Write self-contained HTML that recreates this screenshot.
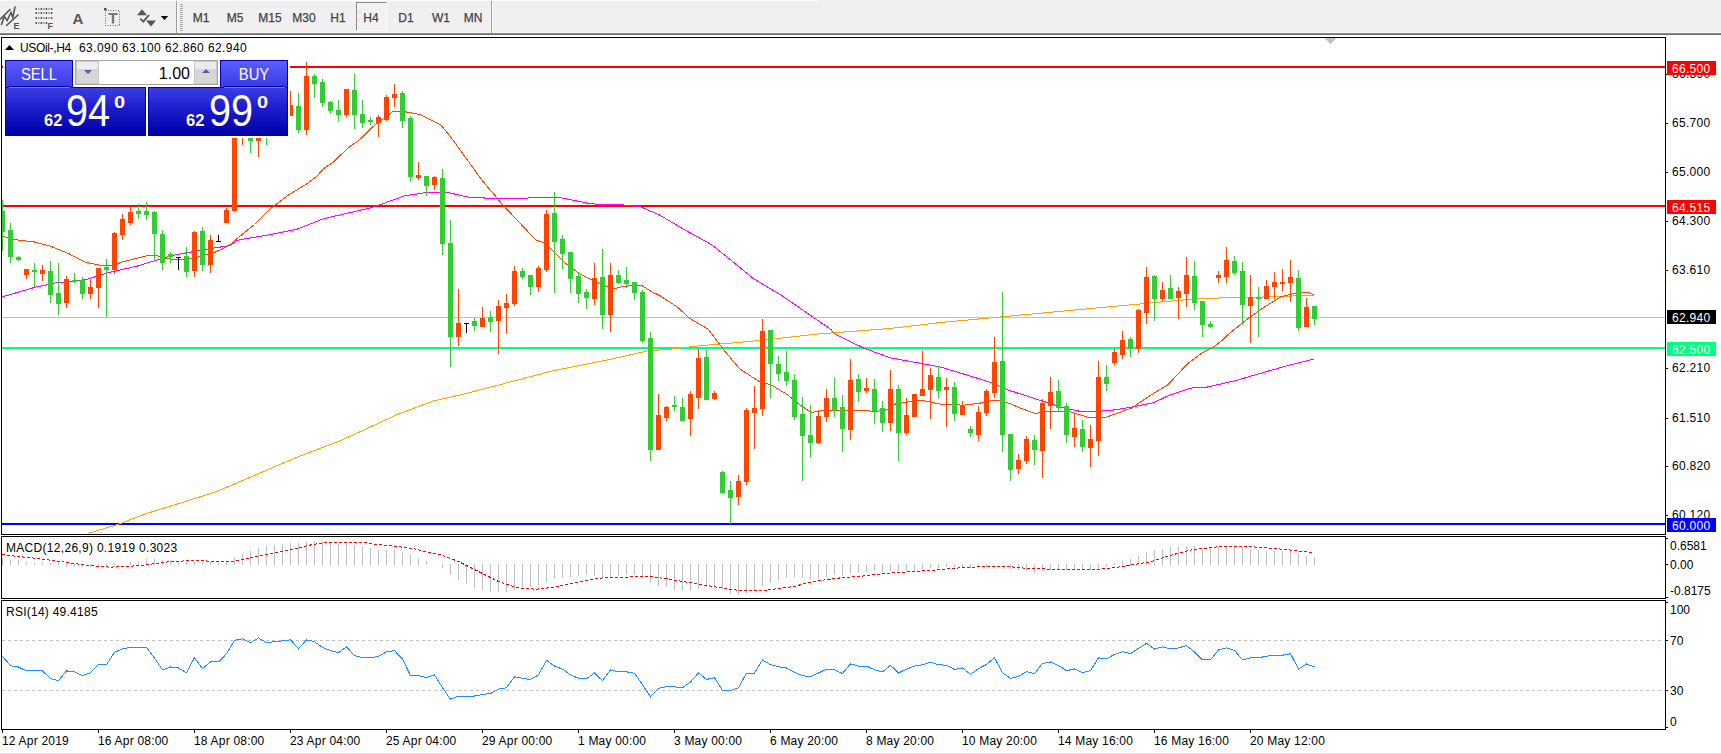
<!DOCTYPE html>
<html><head><meta charset="utf-8"><title>MT4 USOil H4</title><style>
html,body{margin:0;padding:0;width:1721px;height:754px;overflow:hidden;background:#fff;font-family:"Liberation Sans",sans-serif;}
svg text{font-family:"Liberation Sans",sans-serif;}
.tf{position:absolute;top:11px;transform:translateX(-50%);font-size:12px;color:#444;line-height:14px;-webkit-text-stroke:0.25px #444;}
.sep{position:absolute;top:1px;width:1px;height:31px;background:#a0a0a0;}
#h4btn{position:absolute;left:356px;top:2px;width:31px;height:29px;box-sizing:border-box;border-top:1px solid #8a8a8a;border-left:1px solid #8a8a8a;border-right:1px solid #fff;border-bottom:1px solid #fff;background:repeating-conic-gradient(#fdfdfd 0 25%,#e9e9e9 0 50%) 0 0/2px 2px;}
#oct{position:absolute;left:0;top:0;}
#octbg{position:absolute;left:3px;top:58px;width:287px;height:80px;background:#fff;}
.tab{position:absolute;top:60px;height:27px;background:linear-gradient(#5c5cff,#3a3ae6);color:#fff;font-size:15px;box-sizing:border-box;border:1px solid #0000b4;border-bottom:none;}
#selltab{left:5px;width:68px;}
#buytab{left:220px;width:68px;}
.tab span{position:absolute;left:0;right:0;top:5px;line-height:17px;font-size:16px;text-align:center;transform:scaleX(0.92);}
.dv1{position:absolute;top:86px;width:61px;height:1px;background:#0000b0;}
.dv2{position:absolute;top:87px;width:61px;height:1px;background:#7878ff;}
.pblk{position:absolute;top:87px;height:49px;background:linear-gradient(#3d3de4,#1e1ed0 40%,#0000a6);color:#fff;box-sizing:border-box;border:1px solid #0000b4;}
#sellp{left:5px;width:141px;}
#buyp{left:148px;width:140px;}
.sm{position:absolute;top:24px;font-size:17px;font-weight:bold;line-height:17px;transform:scaleX(0.97);transform-origin:0 0;}
.big{position:absolute;top:1px;font-size:44px;line-height:44px;transform:scaleX(0.9);transform-origin:0 0;}
.sup{position:absolute;top:7px;font-size:16px;font-weight:bold;line-height:16px;transform:scaleX(1.25);transform-origin:0 0;}
#sellp .sm{left:38px}#sellp .big{left:60px}#sellp .sup{left:108px}
#buyp .sm{left:37px}#buyp .big{left:60px}#buyp .sup{left:108px}
#vol{position:absolute;left:75px;top:60px;width:143px;height:25px;background:#fff;border:1px solid #a8a8a8;box-sizing:border-box;}
#vol span{position:absolute;right:27px;top:4px;font-size:16px;line-height:17px;color:#000;}
.spin{position:absolute;top:0px;width:23px;height:23px;background:linear-gradient(#ececec 35%,#d6d6d6 35%);border:1px solid #c8c8c8;box-sizing:border-box;}
.tri{position:absolute;left:7px;width:0;height:0;border-left:4px solid transparent;border-right:4px solid transparent;}
.tri.down{top:8px;border-top:4px solid #5060a0;}
.tri.up{top:7px;border-bottom:4px solid #5060a0;}
</style></head>
<body>
<svg width="1721" height="754" viewBox="0 0 1721 754" style="position:absolute;left:0;top:0"><rect x="0" y="0" width="1721" height="33" fill="#f0f0f0"/>
<rect x="0" y="0" width="818" height="1" fill="#fbfbfb"/>
<rect x="0" y="32" width="1721" height="1" fill="#f7f7f7"/>
<rect x="0" y="33" width="1721" height="1" fill="#8c8c8c"/>
<rect x="0" y="34" width="1721" height="1" fill="#6e6e6e"/>
<g><g stroke="#555" fill="none" stroke-width="1.6" stroke-linecap="round"><line x1="0.5" y1="19" x2="10" y2="9.5"/><line x1="6.5" y1="25.5" x2="18" y2="15"/><polyline points="1.5,24.5 4.2,16.5 7.2,20.5 11,12.5 12.8,17.5 15,7"/></g><text x="13.5" y="29" font-size="9" font-weight="bold" fill="#555">E</text><rect x="35.5" y="8" width="1.5" height="2" fill="#555"/><rect x="38.0" y="8" width="1.5" height="2" fill="#999"/><rect x="40.6" y="8" width="1.5" height="2" fill="#555"/><rect x="43.1" y="8" width="1.5" height="2" fill="#999"/><rect x="45.7" y="8" width="1.5" height="2" fill="#555"/><rect x="48.2" y="8" width="1.5" height="2" fill="#999"/><rect x="50.8" y="8" width="1.5" height="2" fill="#555"/><rect x="35.5" y="12" width="1.5" height="2" fill="#555"/><rect x="38.0" y="12" width="1.5" height="2" fill="#999"/><rect x="40.6" y="12" width="1.5" height="2" fill="#555"/><rect x="43.1" y="12" width="1.5" height="2" fill="#999"/><rect x="45.7" y="12" width="1.5" height="2" fill="#555"/><rect x="48.2" y="12" width="1.5" height="2" fill="#999"/><rect x="50.8" y="12" width="1.5" height="2" fill="#555"/><rect x="35.5" y="17" width="1.5" height="2" fill="#555"/><rect x="38.0" y="17" width="1.5" height="2" fill="#999"/><rect x="40.6" y="17" width="1.5" height="2" fill="#555"/><rect x="43.1" y="17" width="1.5" height="2" fill="#999"/><rect x="45.7" y="17" width="1.5" height="2" fill="#555"/><rect x="48.2" y="17" width="1.5" height="2" fill="#999"/><rect x="50.8" y="17" width="1.5" height="2" fill="#555"/><rect x="35.5" y="22" width="1.5" height="2" fill="#555"/><rect x="38.0" y="22" width="1.5" height="2" fill="#999"/><rect x="40.6" y="22" width="1.5" height="2" fill="#555"/><rect x="43.1" y="22" width="1.5" height="2" fill="#999"/><rect x="45.7" y="22" width="1.5" height="2" fill="#555"/><text x="47.5" y="29" font-size="9" font-weight="bold" fill="#555">F</text><text x="72.5" y="23.5" font-size="15" font-weight="bold" fill="#555">A</text><rect x="105.5" y="10.5" width="14" height="15" fill="none" stroke="#666" stroke-width="1" stroke-dasharray="1,1.5"/><rect x="104" y="8" width="2.5" height="2.5" fill="#555"/><rect x="108.5" y="13" width="9" height="2" fill="#777"/><rect x="111.8" y="13" width="2.4" height="10.5" fill="#777"/><polygon points="137,15.2 147,15.2 142,9.2" fill="#555"/><polygon points="146,20.5 156,20.5 151,26.5" fill="#555"/><polyline points="140.3,18.6 143.3,21.6 149,15" fill="none" stroke="#555" stroke-width="1.8"/><polygon points="160.8,16 168.2,16 164.5,20" fill="#000"/><rect x="176" y="1" width="1" height="32" fill="#a0a0a0"/><rect x="177" y="1" width="1" height="32" fill="#fff"/><rect x="180" y="4" width="3" height="1" fill="#a8a8a8"/><rect x="180" y="6" width="3" height="1" fill="#a8a8a8"/><rect x="180" y="8" width="3" height="1" fill="#a8a8a8"/><rect x="180" y="10" width="3" height="1" fill="#a8a8a8"/><rect x="180" y="12" width="3" height="1" fill="#a8a8a8"/><rect x="180" y="14" width="3" height="1" fill="#a8a8a8"/><rect x="180" y="16" width="3" height="1" fill="#a8a8a8"/><rect x="180" y="18" width="3" height="1" fill="#a8a8a8"/><rect x="180" y="20" width="3" height="1" fill="#a8a8a8"/><rect x="180" y="22" width="3" height="1" fill="#a8a8a8"/><rect x="180" y="24" width="3" height="1" fill="#a8a8a8"/><rect x="180" y="26" width="3" height="1" fill="#a8a8a8"/><rect x="180" y="28" width="3" height="1" fill="#a8a8a8"/><rect x="180" y="30" width="3" height="1" fill="#a8a8a8"/><rect x="491" y="1" width="1" height="32" fill="#a0a0a0"/><rect x="492" y="1" width="1" height="32" fill="#fff"/></g>
<rect x="0" y="753" width="1721" height="1" fill="#dfdfdf"/>
<defs><clipPath id="mainclip"><rect x="2" y="38" width="1663" height="496"/></clipPath></defs>
<g shape-rendering="crispEdges"><rect x="2" y="66" width="1663" height="2" fill="#ff0000"/>
<rect x="2" y="205" width="1663" height="2" fill="#ff0000"/>
<rect x="2" y="317" width="1663" height="1" fill="#c0c0c0"/>
<rect x="2" y="347" width="1663" height="2" fill="#00ff7f"/>
<rect x="2" y="523" width="1663" height="2" fill="#0000ff"/>
<polyline points="87.7,533.5 117.5,524.6 146.2,513.6 175.0,504.8 216.9,491.5 247.8,478.3 278.7,465.0 305.2,454.0 340.5,440.7 367.0,428.6 398.0,414.2 433.3,401.0 460.0,395.0 495.8,385.8 551.6,371.1 607.4,360.0 647.8,350.9 670.0,349.2 693.8,346.4 759.5,340.5 819.2,333.9 890.0,328.5 940.0,322.6 1090.0,308.6 1139.7,304.0 1197.4,298.7 1229.3,297.7 1255.0,297.3 1289.0,296.1 1313.8,295.3" fill="none" stroke="#ffa500" stroke-width="1" shape-rendering="crispEdges" />
<polyline points="2.0,297.0 34.5,287.4 55.0,283.0 86.0,279.7 107.0,273.0 138.0,265.9 160.0,259.0 172.0,255.5 198.0,250.7 215.5,247.8 230.0,245.5 237.0,240.3 271.7,234.3 297.6,229.0 323.4,218.8 351.0,212.4 371.7,207.6 383.8,203.3 404.5,195.9 427.0,192.4 450.0,193.0 471.8,197.9 519.6,198.3 543.5,197.5 559.4,197.5 591.2,203.9 623.0,204.9 641.0,206.9 660.0,215.2 680.7,227.6 711.7,244.8 729.0,258.6 753.1,278.4 780.7,294.8 830.7,329.3 835.0,333.9 863.0,347.8 890.0,357.8 909.8,361.4 939.7,366.8 969.5,375.8 991.4,382.7 1007.3,389.7 1039.2,400.0 1063.0,407.6 1083.0,412.0 1110.0,410.6 1131.8,407.0 1154.2,402.5 1168.1,395.8 1190.4,388.1 1205.8,387.4 1236.4,380.4 1268.5,371.0 1292.2,364.4 1313.8,359.2" fill="none" stroke="#ff00ff" stroke-width="1" shape-rendering="crispEdges" />
<polyline points="2.0,235.7 10.3,239.0 34.5,242.0 50.0,246.0 69.0,253.8 86.0,262.4 103.4,265.9 113.8,265.9 120.7,262.4 146.6,255.9 155.0,255.0 163.8,258.0 172.4,259.3 186.0,259.3 198.0,257.0 215.5,252.0 229.0,245.5 237.0,238.6 254.5,224.5 271.7,207.6 289.0,194.7 299.0,188.6 306.0,184.3 316.6,176.6 323.4,168.8 333.8,161.9 340.7,155.0 351.0,145.5 358.0,141.2 375.0,124.8 392.4,111.9 395.9,111.0 406.0,111.9 420.0,114.5 427.0,118.0 440.7,124.8 450.0,136.0 481.8,180.0 503.7,205.9 535.5,239.7 545.5,243.3 563.4,261.6 579.3,273.5 595.2,281.5 613.0,289.0 623.0,286.4 641.0,285.0 651.0,291.4 660.0,295.7 677.2,306.9 689.3,318.1 708.3,329.3 723.7,349.8 739.6,368.7 759.5,381.7 771.4,385.0 787.3,394.6 799.3,404.5 811.2,412.5 823.2,410.5 839.0,410.0 859.0,410.0 875.0,411.5 890.0,409.5 892.0,404.6 919.8,400.0 939.7,404.0 963.6,405.2 979.5,403.2 995.4,400.0 1007.3,402.6 1023.3,409.2 1035.2,413.6 1047.0,411.2 1071.0,412.0 1087.0,417.0 1106.7,417.0 1131.8,408.0 1148.6,396.5 1168.1,384.6 1187.6,363.7 1201.6,353.2 1212.7,347.7 1222.5,340.0 1229.3,333.5 1249.2,317.6 1265.0,306.7 1281.0,296.7 1297.0,292.7 1308.9,292.7 1313.8,294.7" fill="none" stroke="#ff4500" stroke-width="1" shape-rendering="crispEdges" />
<g clip-path="url(#mainclip)"><rect x="2" y="200" width="1" height="51" fill="#32cd32"/>
<rect x="0" y="211" width="5" height="21" fill="#32cd32"/>
<rect x="10" y="223" width="1" height="40" fill="#32cd32"/>
<rect x="8" y="230" width="5" height="27" fill="#32cd32"/>
<rect x="18" y="256" width="1" height="5" fill="#32cd32"/>
<rect x="16" y="257" width="5" height="3" fill="#32cd32"/>
<rect x="26" y="269" width="1" height="10" fill="#ff4500"/>
<rect x="24" y="269" width="5" height="6" fill="#ff4500"/>
<rect x="34" y="263" width="1" height="24" fill="#32cd32"/>
<rect x="32" y="270" width="5" height="2" fill="#32cd32"/>
<rect x="42" y="265" width="1" height="16" fill="#ff4500"/>
<rect x="40" y="270" width="5" height="4" fill="#ff4500"/>
<rect x="50" y="261" width="1" height="42" fill="#32cd32"/>
<rect x="48" y="271" width="5" height="24" fill="#32cd32"/>
<rect x="58" y="263" width="1" height="52" fill="#32cd32"/>
<rect x="56" y="293" width="5" height="11" fill="#32cd32"/>
<rect x="66" y="276" width="1" height="32" fill="#ff4500"/>
<rect x="64" y="279" width="5" height="24" fill="#ff4500"/>
<rect x="74" y="273" width="1" height="10" fill="#32cd32"/>
<rect x="72" y="280" width="5" height="2" fill="#32cd32"/>
<rect x="82" y="277" width="1" height="22" fill="#32cd32"/>
<rect x="80" y="280" width="5" height="14" fill="#32cd32"/>
<rect x="90" y="280" width="1" height="19" fill="#ff4500"/>
<rect x="88" y="287" width="5" height="7" fill="#ff4500"/>
<rect x="98" y="268" width="1" height="40" fill="#ff4500"/>
<rect x="96" y="268" width="5" height="20" fill="#ff4500"/>
<rect x="106" y="259" width="1" height="58" fill="#32cd32"/>
<rect x="104" y="267" width="5" height="3" fill="#32cd32"/>
<rect x="114" y="232" width="1" height="42" fill="#ff4500"/>
<rect x="112" y="233" width="5" height="37" fill="#ff4500"/>
<rect x="122" y="214" width="1" height="26" fill="#ff4500"/>
<rect x="120" y="219" width="5" height="16" fill="#ff4500"/>
<rect x="130" y="207" width="1" height="18" fill="#ff4500"/>
<rect x="128" y="212" width="5" height="11" fill="#ff4500"/>
<rect x="138" y="204" width="1" height="15" fill="#32cd32"/>
<rect x="136" y="211" width="5" height="3" fill="#32cd32"/>
<rect x="146" y="202" width="1" height="18" fill="#32cd32"/>
<rect x="144" y="211" width="5" height="4" fill="#32cd32"/>
<rect x="154" y="211" width="1" height="49" fill="#32cd32"/>
<rect x="152" y="212" width="5" height="22" fill="#32cd32"/>
<rect x="162" y="230" width="1" height="40" fill="#32cd32"/>
<rect x="160" y="234" width="5" height="29" fill="#32cd32"/>
<rect x="170" y="252" width="1" height="11" fill="#32cd32"/>
<rect x="168" y="254" width="5" height="3" fill="#32cd32"/>
<rect x="178" y="257" width="1" height="13" fill="#000"/>
<rect x="176" y="257" width="5" height="1" fill="#000"/>
<rect x="186" y="247" width="1" height="30" fill="#32cd32"/>
<rect x="184" y="256" width="5" height="16" fill="#32cd32"/>
<rect x="194" y="231" width="1" height="46" fill="#ff4500"/>
<rect x="192" y="232" width="5" height="39" fill="#ff4500"/>
<rect x="202" y="227" width="1" height="44" fill="#32cd32"/>
<rect x="200" y="231" width="5" height="34" fill="#32cd32"/>
<rect x="210" y="235" width="1" height="38" fill="#ff4500"/>
<rect x="208" y="240" width="5" height="25" fill="#ff4500"/>
<rect x="218" y="235" width="1" height="7" fill="#000"/>
<rect x="216" y="241" width="5" height="1" fill="#000"/>
<rect x="226" y="208" width="1" height="15" fill="#ff4500"/>
<rect x="224" y="210" width="5" height="13" fill="#ff4500"/>
<rect x="234" y="95" width="1" height="117" fill="#ff4500"/>
<rect x="232" y="100" width="5" height="111" fill="#ff4500"/>
<rect x="242" y="115" width="1" height="30" fill="#ff4500"/>
<rect x="240" y="125" width="5" height="13" fill="#ff4500"/>
<rect x="250" y="110" width="1" height="43" fill="#32cd32"/>
<rect x="248" y="120" width="5" height="21" fill="#32cd32"/>
<rect x="258" y="105" width="1" height="52" fill="#ff4500"/>
<rect x="256" y="115" width="5" height="26" fill="#ff4500"/>
<rect x="266" y="100" width="1" height="45" fill="#32cd32"/>
<rect x="264" y="110" width="5" height="26" fill="#32cd32"/>
<rect x="274" y="95" width="1" height="26" fill="#ff4500"/>
<rect x="272" y="100" width="5" height="16" fill="#ff4500"/>
<rect x="282" y="90" width="1" height="26" fill="#ff4500"/>
<rect x="280" y="95" width="5" height="16" fill="#ff4500"/>
<rect x="290" y="91" width="1" height="25" fill="#ff4500"/>
<rect x="288" y="105" width="5" height="11" fill="#ff4500"/>
<rect x="298" y="93" width="1" height="40" fill="#32cd32"/>
<rect x="296" y="106" width="5" height="24" fill="#32cd32"/>
<rect x="306" y="62" width="1" height="73" fill="#ff4500"/>
<rect x="304" y="76" width="5" height="54" fill="#ff4500"/>
<rect x="314" y="74" width="1" height="24" fill="#32cd32"/>
<rect x="312" y="76" width="5" height="8" fill="#32cd32"/>
<rect x="322" y="79" width="1" height="28" fill="#32cd32"/>
<rect x="320" y="82" width="5" height="21" fill="#32cd32"/>
<rect x="330" y="101" width="1" height="13" fill="#32cd32"/>
<rect x="328" y="102" width="5" height="9" fill="#32cd32"/>
<rect x="338" y="100" width="1" height="21" fill="#32cd32"/>
<rect x="336" y="110" width="5" height="5" fill="#32cd32"/>
<rect x="346" y="89" width="1" height="28" fill="#ff4500"/>
<rect x="344" y="89" width="5" height="26" fill="#ff4500"/>
<rect x="354" y="74" width="1" height="55" fill="#32cd32"/>
<rect x="352" y="90" width="5" height="25" fill="#32cd32"/>
<rect x="362" y="100" width="1" height="28" fill="#32cd32"/>
<rect x="360" y="114" width="5" height="9" fill="#32cd32"/>
<rect x="370" y="117" width="1" height="8" fill="#32cd32"/>
<rect x="368" y="120" width="5" height="2" fill="#32cd32"/>
<rect x="378" y="115" width="1" height="22" fill="#ff4500"/>
<rect x="376" y="117" width="5" height="6" fill="#ff4500"/>
<rect x="386" y="95" width="1" height="26" fill="#ff4500"/>
<rect x="384" y="97" width="5" height="23" fill="#ff4500"/>
<rect x="394" y="84" width="1" height="23" fill="#ff4500"/>
<rect x="392" y="94" width="5" height="4" fill="#ff4500"/>
<rect x="402" y="91" width="1" height="37" fill="#32cd32"/>
<rect x="400" y="93" width="5" height="28" fill="#32cd32"/>
<rect x="410" y="116" width="1" height="66" fill="#32cd32"/>
<rect x="408" y="118" width="5" height="59" fill="#32cd32"/>
<rect x="418" y="162" width="1" height="18" fill="#ff4500"/>
<rect x="416" y="175" width="5" height="3" fill="#ff4500"/>
<rect x="426" y="176" width="1" height="20" fill="#32cd32"/>
<rect x="424" y="176" width="5" height="10" fill="#32cd32"/>
<rect x="434" y="176" width="1" height="14" fill="#ff4500"/>
<rect x="432" y="177" width="5" height="8" fill="#ff4500"/>
<rect x="442" y="169" width="1" height="86" fill="#32cd32"/>
<rect x="440" y="178" width="5" height="66" fill="#32cd32"/>
<rect x="450" y="220" width="1" height="147" fill="#32cd32"/>
<rect x="448" y="243" width="5" height="94" fill="#32cd32"/>
<rect x="458" y="289" width="1" height="57" fill="#ff4500"/>
<rect x="456" y="323" width="5" height="14" fill="#ff4500"/>
<rect x="466" y="323" width="1" height="10" fill="#000"/>
<rect x="464" y="323" width="5" height="1" fill="#000"/>
<rect x="474" y="318" width="1" height="13" fill="#32cd32"/>
<rect x="472" y="321" width="5" height="5" fill="#32cd32"/>
<rect x="482" y="307" width="1" height="20" fill="#ff4500"/>
<rect x="480" y="318" width="5" height="9" fill="#ff4500"/>
<rect x="490" y="311" width="1" height="21" fill="#32cd32"/>
<rect x="488" y="317" width="5" height="5" fill="#32cd32"/>
<rect x="498" y="300" width="1" height="54" fill="#ff4500"/>
<rect x="496" y="306" width="5" height="15" fill="#ff4500"/>
<rect x="506" y="294" width="1" height="40" fill="#ff4500"/>
<rect x="504" y="303" width="5" height="5" fill="#ff4500"/>
<rect x="514" y="266" width="1" height="40" fill="#ff4500"/>
<rect x="512" y="271" width="5" height="33" fill="#ff4500"/>
<rect x="522" y="268" width="1" height="11" fill="#32cd32"/>
<rect x="520" y="271" width="5" height="6" fill="#32cd32"/>
<rect x="530" y="275" width="1" height="20" fill="#32cd32"/>
<rect x="528" y="275" width="5" height="12" fill="#32cd32"/>
<rect x="538" y="266" width="1" height="26" fill="#ff4500"/>
<rect x="536" y="268" width="5" height="19" fill="#ff4500"/>
<rect x="546" y="210" width="1" height="62" fill="#ff4500"/>
<rect x="544" y="214" width="5" height="56" fill="#ff4500"/>
<rect x="554" y="192" width="1" height="101" fill="#32cd32"/>
<rect x="552" y="213" width="5" height="29" fill="#32cd32"/>
<rect x="562" y="235" width="1" height="34" fill="#32cd32"/>
<rect x="560" y="239" width="5" height="15" fill="#32cd32"/>
<rect x="570" y="252" width="1" height="41" fill="#32cd32"/>
<rect x="568" y="252" width="5" height="27" fill="#32cd32"/>
<rect x="578" y="272" width="1" height="31" fill="#32cd32"/>
<rect x="576" y="276" width="5" height="18" fill="#32cd32"/>
<rect x="586" y="289" width="1" height="20" fill="#32cd32"/>
<rect x="584" y="292" width="5" height="6" fill="#32cd32"/>
<rect x="594" y="263" width="1" height="42" fill="#ff4500"/>
<rect x="592" y="278" width="5" height="21" fill="#ff4500"/>
<rect x="602" y="249" width="1" height="80" fill="#32cd32"/>
<rect x="600" y="277" width="5" height="38" fill="#32cd32"/>
<rect x="610" y="263" width="1" height="69" fill="#ff4500"/>
<rect x="608" y="275" width="5" height="40" fill="#ff4500"/>
<rect x="618" y="270" width="1" height="14" fill="#32cd32"/>
<rect x="616" y="275" width="5" height="8" fill="#32cd32"/>
<rect x="626" y="267" width="1" height="21" fill="#32cd32"/>
<rect x="624" y="280" width="5" height="4" fill="#32cd32"/>
<rect x="634" y="282" width="1" height="18" fill="#32cd32"/>
<rect x="632" y="282" width="5" height="11" fill="#32cd32"/>
<rect x="642" y="290" width="1" height="53" fill="#32cd32"/>
<rect x="640" y="292" width="5" height="49" fill="#32cd32"/>
<rect x="650" y="332" width="1" height="129" fill="#32cd32"/>
<rect x="648" y="338" width="5" height="112" fill="#32cd32"/>
<rect x="658" y="394" width="1" height="56" fill="#ff4500"/>
<rect x="656" y="415" width="5" height="35" fill="#ff4500"/>
<rect x="666" y="406" width="1" height="15" fill="#ff4500"/>
<rect x="664" y="407" width="5" height="11" fill="#ff4500"/>
<rect x="674" y="396" width="1" height="15" fill="#32cd32"/>
<rect x="672" y="405" width="5" height="2" fill="#32cd32"/>
<rect x="682" y="398" width="1" height="23" fill="#32cd32"/>
<rect x="680" y="407" width="5" height="14" fill="#32cd32"/>
<rect x="690" y="391" width="1" height="45" fill="#ff4500"/>
<rect x="688" y="394" width="5" height="25" fill="#ff4500"/>
<rect x="698" y="349" width="1" height="60" fill="#ff4500"/>
<rect x="696" y="358" width="5" height="40" fill="#ff4500"/>
<rect x="706" y="350" width="1" height="50" fill="#32cd32"/>
<rect x="704" y="357" width="5" height="43" fill="#32cd32"/>
<rect x="714" y="391" width="1" height="9" fill="#ff4500"/>
<rect x="712" y="393" width="5" height="6" fill="#ff4500"/>
<rect x="722" y="471" width="1" height="23" fill="#32cd32"/>
<rect x="720" y="472" width="5" height="21" fill="#32cd32"/>
<rect x="730" y="481" width="1" height="43" fill="#32cd32"/>
<rect x="728" y="490" width="5" height="8" fill="#32cd32"/>
<rect x="738" y="475" width="1" height="30" fill="#ff4500"/>
<rect x="736" y="481" width="5" height="16" fill="#ff4500"/>
<rect x="746" y="408" width="1" height="77" fill="#ff4500"/>
<rect x="744" y="410" width="5" height="72" fill="#ff4500"/>
<rect x="754" y="386" width="1" height="63" fill="#ff4500"/>
<rect x="752" y="408" width="5" height="5" fill="#ff4500"/>
<rect x="762" y="319" width="1" height="97" fill="#ff4500"/>
<rect x="760" y="331" width="5" height="78" fill="#ff4500"/>
<rect x="770" y="330" width="1" height="68" fill="#32cd32"/>
<rect x="768" y="330" width="5" height="34" fill="#32cd32"/>
<rect x="778" y="356" width="1" height="25" fill="#32cd32"/>
<rect x="776" y="364" width="5" height="10" fill="#32cd32"/>
<rect x="786" y="351" width="1" height="35" fill="#32cd32"/>
<rect x="784" y="372" width="5" height="9" fill="#32cd32"/>
<rect x="794" y="374" width="1" height="46" fill="#32cd32"/>
<rect x="792" y="380" width="5" height="37" fill="#32cd32"/>
<rect x="802" y="397" width="1" height="84" fill="#32cd32"/>
<rect x="800" y="414" width="5" height="22" fill="#32cd32"/>
<rect x="810" y="405" width="1" height="53" fill="#32cd32"/>
<rect x="808" y="435" width="5" height="8" fill="#32cd32"/>
<rect x="818" y="410" width="1" height="34" fill="#ff4500"/>
<rect x="816" y="416" width="5" height="27" fill="#ff4500"/>
<rect x="826" y="389" width="1" height="33" fill="#ff4500"/>
<rect x="824" y="398" width="5" height="19" fill="#ff4500"/>
<rect x="834" y="378" width="1" height="39" fill="#32cd32"/>
<rect x="832" y="398" width="5" height="12" fill="#32cd32"/>
<rect x="842" y="395" width="1" height="57" fill="#32cd32"/>
<rect x="840" y="407" width="5" height="22" fill="#32cd32"/>
<rect x="850" y="359" width="1" height="81" fill="#ff4500"/>
<rect x="848" y="380" width="5" height="50" fill="#ff4500"/>
<rect x="858" y="374" width="1" height="28" fill="#32cd32"/>
<rect x="856" y="379" width="5" height="13" fill="#32cd32"/>
<rect x="866" y="378" width="1" height="15" fill="#ff4500"/>
<rect x="864" y="388" width="5" height="3" fill="#ff4500"/>
<rect x="874" y="379" width="1" height="45" fill="#32cd32"/>
<rect x="872" y="389" width="5" height="22" fill="#32cd32"/>
<rect x="882" y="401" width="1" height="31" fill="#32cd32"/>
<rect x="880" y="408" width="5" height="15" fill="#32cd32"/>
<rect x="890" y="370" width="1" height="61" fill="#ff4500"/>
<rect x="888" y="389" width="5" height="34" fill="#ff4500"/>
<rect x="898" y="385" width="1" height="76" fill="#32cd32"/>
<rect x="896" y="389" width="5" height="44" fill="#32cd32"/>
<rect x="906" y="398" width="1" height="37" fill="#ff4500"/>
<rect x="904" y="415" width="5" height="18" fill="#ff4500"/>
<rect x="914" y="394" width="1" height="23" fill="#ff4500"/>
<rect x="912" y="394" width="5" height="23" fill="#ff4500"/>
<rect x="922" y="351" width="1" height="45" fill="#ff4500"/>
<rect x="920" y="389" width="5" height="7" fill="#ff4500"/>
<rect x="930" y="368" width="1" height="51" fill="#ff4500"/>
<rect x="928" y="375" width="5" height="15" fill="#ff4500"/>
<rect x="938" y="366" width="1" height="32" fill="#32cd32"/>
<rect x="936" y="377" width="5" height="14" fill="#32cd32"/>
<rect x="946" y="378" width="1" height="49" fill="#ff4500"/>
<rect x="944" y="387" width="5" height="3" fill="#ff4500"/>
<rect x="954" y="382" width="1" height="39" fill="#32cd32"/>
<rect x="952" y="387" width="5" height="27" fill="#32cd32"/>
<rect x="962" y="401" width="1" height="14" fill="#ff4500"/>
<rect x="960" y="405" width="5" height="10" fill="#ff4500"/>
<rect x="970" y="426" width="1" height="11" fill="#32cd32"/>
<rect x="968" y="429" width="5" height="4" fill="#32cd32"/>
<rect x="978" y="406" width="1" height="35" fill="#ff4500"/>
<rect x="976" y="412" width="5" height="23" fill="#ff4500"/>
<rect x="986" y="389" width="1" height="27" fill="#ff4500"/>
<rect x="984" y="391" width="5" height="22" fill="#ff4500"/>
<rect x="994" y="337" width="1" height="61" fill="#ff4500"/>
<rect x="992" y="362" width="5" height="31" fill="#ff4500"/>
<rect x="1002" y="292" width="1" height="160" fill="#32cd32"/>
<rect x="1000" y="361" width="5" height="74" fill="#32cd32"/>
<rect x="1010" y="434" width="1" height="47" fill="#32cd32"/>
<rect x="1008" y="434" width="5" height="36" fill="#32cd32"/>
<rect x="1018" y="454" width="1" height="20" fill="#ff4500"/>
<rect x="1016" y="460" width="5" height="9" fill="#ff4500"/>
<rect x="1026" y="436" width="1" height="28" fill="#ff4500"/>
<rect x="1024" y="439" width="5" height="22" fill="#ff4500"/>
<rect x="1034" y="435" width="1" height="30" fill="#32cd32"/>
<rect x="1032" y="440" width="5" height="10" fill="#32cd32"/>
<rect x="1042" y="399" width="1" height="79" fill="#ff4500"/>
<rect x="1040" y="403" width="5" height="48" fill="#ff4500"/>
<rect x="1050" y="377" width="1" height="52" fill="#ff4500"/>
<rect x="1048" y="392" width="5" height="14" fill="#ff4500"/>
<rect x="1058" y="380" width="1" height="32" fill="#32cd32"/>
<rect x="1056" y="391" width="5" height="17" fill="#32cd32"/>
<rect x="1066" y="403" width="1" height="40" fill="#32cd32"/>
<rect x="1064" y="406" width="5" height="29" fill="#32cd32"/>
<rect x="1074" y="413" width="1" height="34" fill="#ff4500"/>
<rect x="1072" y="428" width="5" height="9" fill="#ff4500"/>
<rect x="1082" y="420" width="1" height="32" fill="#32cd32"/>
<rect x="1080" y="429" width="5" height="18" fill="#32cd32"/>
<rect x="1090" y="425" width="1" height="42" fill="#ff4500"/>
<rect x="1088" y="439" width="5" height="9" fill="#ff4500"/>
<rect x="1098" y="361" width="1" height="95" fill="#ff4500"/>
<rect x="1096" y="377" width="5" height="64" fill="#ff4500"/>
<rect x="1106" y="365" width="1" height="26" fill="#32cd32"/>
<rect x="1104" y="377" width="5" height="7" fill="#32cd32"/>
<rect x="1114" y="349" width="1" height="16" fill="#ff4500"/>
<rect x="1112" y="352" width="5" height="11" fill="#ff4500"/>
<rect x="1122" y="331" width="1" height="28" fill="#ff4500"/>
<rect x="1120" y="340" width="5" height="15" fill="#ff4500"/>
<rect x="1130" y="337" width="1" height="20" fill="#32cd32"/>
<rect x="1128" y="339" width="5" height="10" fill="#32cd32"/>
<rect x="1138" y="309" width="1" height="44" fill="#ff4500"/>
<rect x="1136" y="310" width="5" height="39" fill="#ff4500"/>
<rect x="1146" y="267" width="1" height="57" fill="#ff4500"/>
<rect x="1144" y="277" width="5" height="36" fill="#ff4500"/>
<rect x="1154" y="275" width="1" height="46" fill="#32cd32"/>
<rect x="1152" y="276" width="5" height="23" fill="#32cd32"/>
<rect x="1162" y="282" width="1" height="19" fill="#ff4500"/>
<rect x="1160" y="290" width="5" height="9" fill="#ff4500"/>
<rect x="1170" y="275" width="1" height="24" fill="#32cd32"/>
<rect x="1168" y="288" width="5" height="11" fill="#32cd32"/>
<rect x="1178" y="287" width="1" height="32" fill="#ff4500"/>
<rect x="1176" y="291" width="5" height="7" fill="#ff4500"/>
<rect x="1186" y="257" width="1" height="50" fill="#ff4500"/>
<rect x="1184" y="275" width="5" height="19" fill="#ff4500"/>
<rect x="1194" y="261" width="1" height="49" fill="#32cd32"/>
<rect x="1192" y="276" width="5" height="27" fill="#32cd32"/>
<rect x="1202" y="301" width="1" height="36" fill="#32cd32"/>
<rect x="1200" y="301" width="5" height="24" fill="#32cd32"/>
<rect x="1210" y="321" width="1" height="7" fill="#32cd32"/>
<rect x="1208" y="324" width="5" height="3" fill="#32cd32"/>
<rect x="1218" y="271" width="1" height="12" fill="#ff4500"/>
<rect x="1216" y="275" width="5" height="3" fill="#ff4500"/>
<rect x="1226" y="247" width="1" height="36" fill="#ff4500"/>
<rect x="1224" y="260" width="5" height="17" fill="#ff4500"/>
<rect x="1234" y="256" width="1" height="19" fill="#32cd32"/>
<rect x="1232" y="261" width="5" height="12" fill="#32cd32"/>
<rect x="1242" y="262" width="1" height="63" fill="#32cd32"/>
<rect x="1240" y="271" width="5" height="34" fill="#32cd32"/>
<rect x="1250" y="275" width="1" height="68" fill="#ff4500"/>
<rect x="1248" y="297" width="5" height="9" fill="#ff4500"/>
<rect x="1258" y="287" width="1" height="50" fill="#32cd32"/>
<rect x="1256" y="297" width="5" height="2" fill="#32cd32"/>
<rect x="1266" y="280" width="1" height="19" fill="#ff4500"/>
<rect x="1264" y="286" width="5" height="13" fill="#ff4500"/>
<rect x="1274" y="272" width="1" height="27" fill="#ff4500"/>
<rect x="1272" y="282" width="5" height="5" fill="#ff4500"/>
<rect x="1282" y="269" width="1" height="22" fill="#ff4500"/>
<rect x="1280" y="282" width="5" height="2" fill="#ff4500"/>
<rect x="1290" y="260" width="1" height="42" fill="#ff4500"/>
<rect x="1288" y="277" width="5" height="6" fill="#ff4500"/>
<rect x="1298" y="270" width="1" height="61" fill="#32cd32"/>
<rect x="1296" y="278" width="5" height="50" fill="#32cd32"/>
<rect x="1306" y="298" width="1" height="29" fill="#ff4500"/>
<rect x="1304" y="307" width="5" height="20" fill="#ff4500"/>
<rect x="1314" y="306" width="1" height="19" fill="#32cd32"/>
<rect x="1312" y="306" width="5" height="13" fill="#32cd32"/></g>
<polygon points="1324,38 1337,38 1330.5,44" fill="#c0c0c0"/></g>
<g shape-rendering="crispEdges"><rect x="2" y="558" width="1" height="7" fill="#c0c0c0"/>
<rect x="10" y="560" width="1" height="5" fill="#c0c0c0"/>
<rect x="18" y="560" width="1" height="5" fill="#c0c0c0"/>
<rect x="26" y="562" width="1" height="3" fill="#c0c0c0"/>
<rect x="34" y="563" width="1" height="2" fill="#c0c0c0"/>
<rect x="42" y="562" width="1" height="3" fill="#c0c0c0"/>
<rect x="50" y="563" width="1" height="2" fill="#c0c0c0"/>
<rect x="58" y="562" width="1" height="3" fill="#c0c0c0"/>
<rect x="66" y="564" width="1" height="3" fill="#c0c0c0"/>
<rect x="74" y="564" width="1" height="3" fill="#c0c0c0"/>
<rect x="82" y="564" width="1" height="3" fill="#c0c0c0"/>
<rect x="90" y="564" width="1" height="3" fill="#c0c0c0"/>
<rect x="98" y="564" width="1" height="3" fill="#c0c0c0"/>
<rect x="106" y="564" width="1" height="3" fill="#c0c0c0"/>
<rect x="114" y="563" width="1" height="2" fill="#c0c0c0"/>
<rect x="130" y="562" width="1" height="3" fill="#c0c0c0"/>
<rect x="138" y="561" width="1" height="4" fill="#c0c0c0"/>
<rect x="146" y="559" width="1" height="6" fill="#c0c0c0"/>
<rect x="154" y="559" width="1" height="6" fill="#c0c0c0"/>
<rect x="162" y="560" width="1" height="5" fill="#c0c0c0"/>
<rect x="170" y="560" width="1" height="5" fill="#c0c0c0"/>
<rect x="178" y="561" width="1" height="4" fill="#c0c0c0"/>
<rect x="186" y="562" width="1" height="3" fill="#c0c0c0"/>
<rect x="194" y="562" width="1" height="3" fill="#c0c0c0"/>
<rect x="202" y="562" width="1" height="3" fill="#c0c0c0"/>
<rect x="210" y="562" width="1" height="3" fill="#c0c0c0"/>
<rect x="218" y="562" width="1" height="3" fill="#c0c0c0"/>
<rect x="226" y="561" width="1" height="4" fill="#c0c0c0"/>
<rect x="234" y="557" width="1" height="8" fill="#c0c0c0"/>
<rect x="242" y="554" width="1" height="11" fill="#c0c0c0"/>
<rect x="250" y="551" width="1" height="14" fill="#c0c0c0"/>
<rect x="258" y="548" width="1" height="17" fill="#c0c0c0"/>
<rect x="266" y="546" width="1" height="19" fill="#c0c0c0"/>
<rect x="274" y="545" width="1" height="20" fill="#c0c0c0"/>
<rect x="282" y="544" width="1" height="21" fill="#c0c0c0"/>
<rect x="290" y="543" width="1" height="22" fill="#c0c0c0"/>
<rect x="298" y="543" width="1" height="22" fill="#c0c0c0"/>
<rect x="306" y="542" width="1" height="23" fill="#c0c0c0"/>
<rect x="314" y="541" width="1" height="24" fill="#c0c0c0"/>
<rect x="322" y="541" width="1" height="24" fill="#c0c0c0"/>
<rect x="330" y="542" width="1" height="23" fill="#c0c0c0"/>
<rect x="338" y="544" width="1" height="21" fill="#c0c0c0"/>
<rect x="346" y="544" width="1" height="21" fill="#c0c0c0"/>
<rect x="354" y="545" width="1" height="20" fill="#c0c0c0"/>
<rect x="362" y="547" width="1" height="18" fill="#c0c0c0"/>
<rect x="370" y="548" width="1" height="17" fill="#c0c0c0"/>
<rect x="378" y="550" width="1" height="15" fill="#c0c0c0"/>
<rect x="386" y="550" width="1" height="15" fill="#c0c0c0"/>
<rect x="394" y="550" width="1" height="15" fill="#c0c0c0"/>
<rect x="402" y="552" width="1" height="13" fill="#c0c0c0"/>
<rect x="410" y="555" width="1" height="10" fill="#c0c0c0"/>
<rect x="418" y="558" width="1" height="7" fill="#c0c0c0"/>
<rect x="426" y="561" width="1" height="4" fill="#c0c0c0"/>
<rect x="442" y="564" width="1" height="4" fill="#c0c0c0"/>
<rect x="450" y="564" width="1" height="11" fill="#c0c0c0"/>
<rect x="458" y="564" width="1" height="16" fill="#c0c0c0"/>
<rect x="466" y="564" width="1" height="20" fill="#c0c0c0"/>
<rect x="474" y="564" width="1" height="24" fill="#c0c0c0"/>
<rect x="482" y="564" width="1" height="26" fill="#c0c0c0"/>
<rect x="490" y="564" width="1" height="28" fill="#c0c0c0"/>
<rect x="498" y="564" width="1" height="28" fill="#c0c0c0"/>
<rect x="506" y="564" width="1" height="28" fill="#c0c0c0"/>
<rect x="514" y="564" width="1" height="26" fill="#c0c0c0"/>
<rect x="522" y="564" width="1" height="24" fill="#c0c0c0"/>
<rect x="530" y="564" width="1" height="23" fill="#c0c0c0"/>
<rect x="538" y="564" width="1" height="21" fill="#c0c0c0"/>
<rect x="546" y="564" width="1" height="18" fill="#c0c0c0"/>
<rect x="554" y="564" width="1" height="15" fill="#c0c0c0"/>
<rect x="562" y="564" width="1" height="14" fill="#c0c0c0"/>
<rect x="570" y="564" width="1" height="13" fill="#c0c0c0"/>
<rect x="578" y="564" width="1" height="12" fill="#c0c0c0"/>
<rect x="586" y="564" width="1" height="11" fill="#c0c0c0"/>
<rect x="594" y="564" width="1" height="12" fill="#c0c0c0"/>
<rect x="602" y="564" width="1" height="14" fill="#c0c0c0"/>
<rect x="610" y="564" width="1" height="13" fill="#c0c0c0"/>
<rect x="618" y="564" width="1" height="12" fill="#c0c0c0"/>
<rect x="626" y="564" width="1" height="11" fill="#c0c0c0"/>
<rect x="634" y="564" width="1" height="11" fill="#c0c0c0"/>
<rect x="642" y="564" width="1" height="12" fill="#c0c0c0"/>
<rect x="650" y="564" width="1" height="18" fill="#c0c0c0"/>
<rect x="658" y="564" width="1" height="22" fill="#c0c0c0"/>
<rect x="666" y="564" width="1" height="23" fill="#c0c0c0"/>
<rect x="674" y="564" width="1" height="26" fill="#c0c0c0"/>
<rect x="682" y="564" width="1" height="27" fill="#c0c0c0"/>
<rect x="690" y="564" width="1" height="27" fill="#c0c0c0"/>
<rect x="698" y="564" width="1" height="25" fill="#c0c0c0"/>
<rect x="706" y="564" width="1" height="23" fill="#c0c0c0"/>
<rect x="714" y="564" width="1" height="24" fill="#c0c0c0"/>
<rect x="722" y="564" width="1" height="26" fill="#c0c0c0"/>
<rect x="730" y="564" width="1" height="30" fill="#c0c0c0"/>
<rect x="738" y="564" width="1" height="31" fill="#c0c0c0"/>
<rect x="746" y="564" width="1" height="30" fill="#c0c0c0"/>
<rect x="754" y="564" width="1" height="26" fill="#c0c0c0"/>
<rect x="762" y="564" width="1" height="22" fill="#c0c0c0"/>
<rect x="770" y="564" width="1" height="19" fill="#c0c0c0"/>
<rect x="778" y="564" width="1" height="16" fill="#c0c0c0"/>
<rect x="786" y="564" width="1" height="14" fill="#c0c0c0"/>
<rect x="794" y="564" width="1" height="13" fill="#c0c0c0"/>
<rect x="802" y="564" width="1" height="14" fill="#c0c0c0"/>
<rect x="810" y="564" width="1" height="15" fill="#c0c0c0"/>
<rect x="818" y="564" width="1" height="15" fill="#c0c0c0"/>
<rect x="826" y="564" width="1" height="13" fill="#c0c0c0"/>
<rect x="834" y="564" width="1" height="11" fill="#c0c0c0"/>
<rect x="842" y="564" width="1" height="12" fill="#c0c0c0"/>
<rect x="850" y="564" width="1" height="9" fill="#c0c0c0"/>
<rect x="858" y="564" width="1" height="9" fill="#c0c0c0"/>
<rect x="866" y="564" width="1" height="8" fill="#c0c0c0"/>
<rect x="874" y="564" width="1" height="7" fill="#c0c0c0"/>
<rect x="882" y="564" width="1" height="8" fill="#c0c0c0"/>
<rect x="890" y="564" width="1" height="7" fill="#c0c0c0"/>
<rect x="898" y="564" width="1" height="7" fill="#c0c0c0"/>
<rect x="906" y="564" width="1" height="7" fill="#c0c0c0"/>
<rect x="914" y="564" width="1" height="7" fill="#c0c0c0"/>
<rect x="922" y="564" width="1" height="5" fill="#c0c0c0"/>
<rect x="930" y="564" width="1" height="4" fill="#c0c0c0"/>
<rect x="938" y="564" width="1" height="4" fill="#c0c0c0"/>
<rect x="946" y="564" width="1" height="3" fill="#c0c0c0"/>
<rect x="954" y="564" width="1" height="3" fill="#c0c0c0"/>
<rect x="962" y="564" width="1" height="3" fill="#c0c0c0"/>
<rect x="970" y="564" width="1" height="4" fill="#c0c0c0"/>
<rect x="978" y="564" width="1" height="3" fill="#c0c0c0"/>
<rect x="986" y="564" width="1" height="3" fill="#c0c0c0"/>
<rect x="1010" y="564" width="1" height="5" fill="#c0c0c0"/>
<rect x="1018" y="564" width="1" height="6" fill="#c0c0c0"/>
<rect x="1026" y="564" width="1" height="7" fill="#c0c0c0"/>
<rect x="1034" y="564" width="1" height="9" fill="#c0c0c0"/>
<rect x="1042" y="564" width="1" height="7" fill="#c0c0c0"/>
<rect x="1050" y="564" width="1" height="6" fill="#c0c0c0"/>
<rect x="1058" y="564" width="1" height="6" fill="#c0c0c0"/>
<rect x="1066" y="564" width="1" height="6" fill="#c0c0c0"/>
<rect x="1074" y="564" width="1" height="6" fill="#c0c0c0"/>
<rect x="1082" y="564" width="1" height="6" fill="#c0c0c0"/>
<rect x="1090" y="564" width="1" height="6" fill="#c0c0c0"/>
<rect x="1098" y="564" width="1" height="5" fill="#c0c0c0"/>
<rect x="1106" y="564" width="1" height="3" fill="#c0c0c0"/>
<rect x="1114" y="563" width="1" height="2" fill="#c0c0c0"/>
<rect x="1122" y="561" width="1" height="4" fill="#c0c0c0"/>
<rect x="1130" y="559" width="1" height="6" fill="#c0c0c0"/>
<rect x="1138" y="556" width="1" height="9" fill="#c0c0c0"/>
<rect x="1146" y="552" width="1" height="13" fill="#c0c0c0"/>
<rect x="1154" y="550" width="1" height="15" fill="#c0c0c0"/>
<rect x="1162" y="549" width="1" height="16" fill="#c0c0c0"/>
<rect x="1170" y="547" width="1" height="18" fill="#c0c0c0"/>
<rect x="1178" y="547" width="1" height="18" fill="#c0c0c0"/>
<rect x="1186" y="546" width="1" height="19" fill="#c0c0c0"/>
<rect x="1194" y="546" width="1" height="19" fill="#c0c0c0"/>
<rect x="1202" y="548" width="1" height="17" fill="#c0c0c0"/>
<rect x="1210" y="548" width="1" height="17" fill="#c0c0c0"/>
<rect x="1218" y="547" width="1" height="18" fill="#c0c0c0"/>
<rect x="1226" y="546" width="1" height="19" fill="#c0c0c0"/>
<rect x="1234" y="546" width="1" height="19" fill="#c0c0c0"/>
<rect x="1242" y="547" width="1" height="18" fill="#c0c0c0"/>
<rect x="1250" y="549" width="1" height="16" fill="#c0c0c0"/>
<rect x="1258" y="550" width="1" height="15" fill="#c0c0c0"/>
<rect x="1266" y="551" width="1" height="14" fill="#c0c0c0"/>
<rect x="1274" y="551" width="1" height="14" fill="#c0c0c0"/>
<rect x="1282" y="551" width="1" height="14" fill="#c0c0c0"/>
<rect x="1290" y="551" width="1" height="14" fill="#c0c0c0"/>
<rect x="1298" y="554" width="1" height="11" fill="#c0c0c0"/>
<rect x="1306" y="556" width="1" height="9" fill="#c0c0c0"/>
<rect x="1314" y="557" width="1" height="8" fill="#c0c0c0"/></g>
<polyline points="2.0,554.3 15.3,556.2 38.4,558.5 63.3,561.9 88.2,565.4 109.3,567.1 124.6,566.7 147.6,564.8 163.0,562.3 191.8,560.4 207.0,561.0 235.9,561.0 258.9,556.2 287.6,550.4 310.6,545.0 325.0,542.4 363.4,542.4 374.9,544.3 397.9,546.6 413.2,548.5 428.5,552.3 440.0,554.3 459.2,561.9 478.4,571.5 497.6,581.1 516.8,587.8 535.9,589.2 549.4,587.8 574.3,583.0 597.3,578.2 620.3,577.3 650.0,576.3 669.2,579.2 697.9,584.0 726.7,588.8 742.0,590.7 765.0,590.3 793.8,586.5 813.0,581.5 841.8,577.7 860.9,576.3 889.7,573.0 928.0,570.6 956.8,568.1 980.0,566.7 1006.0,566.3 1026.6,568.4 1067.8,569.6 1090.5,570.0 1119.4,567.0 1150.3,561.8 1171.0,555.2 1191.6,549.8 1222.5,546.3 1253.5,546.9 1284.4,549.4 1313.3,552.5" fill="none" stroke="#ff0000" stroke-width="1" shape-rendering="crispEdges" stroke-dasharray="3,2"/>
<line x1="2" y1="640.5" x2="1665" y2="640.5" stroke="#c0c0c0" stroke-dasharray="3,3"/>
<line x1="2" y1="690.5" x2="1665" y2="690.5" stroke="#c0c0c0" stroke-dasharray="3,3"/>
<polyline points="2.5,656.5 10.5,665.7 18.5,667.0 26.5,670.9 34.5,670.9 42.5,670.9 50.5,678.5 58.5,680.7 66.5,670.9 74.5,671.8 82.5,675.7 90.5,672.8 98.5,664.7 106.5,664.7 114.5,652.3 122.5,648.8 130.5,647.5 138.5,647.5 146.5,647.5 154.5,658.0 162.5,669.9 170.5,667.0 178.5,668.0 186.5,672.8 194.5,657.6 202.5,668.6 210.5,661.9 218.5,661.9 226.5,653.8 234.5,640.2 242.5,638.9 250.5,642.7 258.5,637.9 266.5,642.7 274.5,641.7 282.5,640.8 290.5,639.8 298.5,648.8 306.5,639.8 314.5,641.7 322.5,647.5 330.5,650.7 338.5,652.7 346.5,646.9 354.5,655.7 362.5,657.6 370.5,657.6 378.5,656.5 386.5,651.9 394.5,650.7 402.5,659.0 410.5,675.7 418.5,675.7 426.5,677.6 434.5,674.9 442.5,687.7 450.5,699.3 458.5,696.0 466.5,696.0 474.5,696.0 482.5,694.5 490.5,693.5 498.5,689.1 506.5,687.7 514.5,676.8 522.5,678.2 530.5,679.5 538.5,674.9 546.5,660.3 554.5,666.1 562.5,669.1 570.5,674.9 578.5,678.2 586.5,678.7 594.5,673.0 602.5,680.7 610.5,669.9 618.5,671.8 626.5,671.8 634.5,673.4 642.5,684.5 650.5,696.8 658.5,688.3 666.5,686.8 674.5,686.8 682.5,687.7 690.5,682.0 698.5,673.0 706.5,679.5 714.5,677.6 722.5,690.6 730.5,690.6 738.5,687.7 746.5,673.0 754.5,673.0 762.5,659.9 770.5,664.7 778.5,666.7 786.5,668.0 794.5,672.4 802.5,675.7 810.5,676.8 818.5,673.0 826.5,669.1 834.5,669.9 842.5,673.4 850.5,663.8 858.5,666.1 866.5,666.1 874.5,669.9 882.5,671.8 890.5,665.3 898.5,673.0 906.5,669.1 914.5,666.1 922.5,664.7 930.5,662.2 938.5,664.7 946.5,665.3 954.5,669.5 962.5,668.0 970.5,674.3 978.5,668.6 986.5,664.5 994.5,657.8 1002.5,672.7 1010.5,678.5 1018.5,676.4 1026.5,671.7 1034.5,673.7 1042.5,663.4 1050.5,662.0 1058.5,665.5 1066.5,670.6 1074.5,669.0 1082.5,672.7 1090.5,670.6 1098.5,657.8 1106.5,658.7 1114.5,654.5 1122.5,651.7 1130.5,653.7 1138.5,648.4 1146.5,643.4 1154.5,649.0 1162.5,646.9 1170.5,649.0 1178.5,647.9 1186.5,645.5 1194.5,652.1 1202.5,659.9 1210.5,659.9 1218.5,650.0 1226.5,647.9 1234.5,650.4 1242.5,659.9 1250.5,657.8 1258.5,657.8 1266.5,656.2 1274.5,655.2 1282.5,655.2 1290.5,653.7 1298.5,669.0 1306.5,664.0 1314.5,666.9" fill="none" stroke="#1e90ff" stroke-width="1" shape-rendering="crispEdges" />
<g shape-rendering="crispEdges"><rect x="1" y="37" width="1665" height="1" fill="#000"/><rect x="1" y="534" width="1665" height="1" fill="#000"/><rect x="1" y="37" width="1" height="498" fill="#000"/><rect x="1665" y="37" width="1" height="498" fill="#000"/><rect x="1" y="536" width="1665" height="1" fill="#000"/><rect x="1" y="598" width="1665" height="1" fill="#000"/><rect x="1" y="536" width="1" height="63" fill="#000"/><rect x="1665" y="536" width="1" height="63" fill="#000"/><rect x="1" y="600" width="1665" height="1" fill="#000"/><rect x="1" y="729" width="1665" height="1" fill="#000"/><rect x="1" y="600" width="1" height="130" fill="#000"/><rect x="1665" y="600" width="1" height="130" fill="#000"/></g>
<g shape-rendering="crispEdges"><rect x="1666" y="74" width="2" height="1" fill="#000"/><rect x="1666" y="123" width="2" height="1" fill="#000"/><rect x="1666" y="172" width="2" height="1" fill="#000"/><rect x="1666" y="221" width="2" height="1" fill="#000"/><rect x="1666" y="270" width="2" height="1" fill="#000"/><rect x="1666" y="368" width="2" height="1" fill="#000"/><rect x="1666" y="418" width="2" height="1" fill="#000"/><rect x="1666" y="466" width="2" height="1" fill="#000"/><rect x="1666" y="515" width="2" height="1" fill="#000"/></g>
<text x="1672" y="78" font-size="12" fill="#000" text-anchor="start" font-weight="normal" letter-spacing="0.3">66.390</text><text x="1672" y="127" font-size="12" fill="#000" text-anchor="start" font-weight="normal" letter-spacing="0.3">65.700</text><text x="1672" y="176" font-size="12" fill="#000" text-anchor="start" font-weight="normal" letter-spacing="0.3">65.000</text><text x="1672" y="225" font-size="12" fill="#000" text-anchor="start" font-weight="normal" letter-spacing="0.3">64.300</text><text x="1672" y="274" font-size="12" fill="#000" text-anchor="start" font-weight="normal" letter-spacing="0.3">63.610</text><text x="1672" y="372" font-size="12" fill="#000" text-anchor="start" font-weight="normal" letter-spacing="0.3">62.210</text><text x="1672" y="422" font-size="12" fill="#000" text-anchor="start" font-weight="normal" letter-spacing="0.3">61.510</text><text x="1672" y="470" font-size="12" fill="#000" text-anchor="start" font-weight="normal" letter-spacing="0.3">60.820</text><text x="1672" y="519" font-size="12" fill="#000" text-anchor="start" font-weight="normal" letter-spacing="0.3">60.120</text>
<rect x="1667" y="61" width="49" height="14" fill="#ff0000"/>
<text x="1672" y="73" font-size="12" fill="#fff" text-anchor="start" font-weight="normal" letter-spacing="0.3">66.500</text>
<rect x="1667" y="200" width="49" height="14" fill="#ff0000"/>
<text x="1672" y="212" font-size="12" fill="#fff" text-anchor="start" font-weight="normal" letter-spacing="0.3">64.515</text>
<rect x="1667" y="310" width="49" height="14" fill="#000000"/>
<text x="1672" y="322" font-size="12" fill="#fff" text-anchor="start" font-weight="normal" letter-spacing="0.3">62.940</text>
<rect x="1667" y="342" width="49" height="14" fill="#00ff7f"/>
<text x="1672" y="354" font-size="12" fill="#fff" text-anchor="start" font-weight="normal" letter-spacing="0.3">62.500</text>
<rect x="1667" y="518" width="49" height="14" fill="#0000ff"/>
<text x="1672" y="530" font-size="12" fill="#fff" text-anchor="start" font-weight="normal" letter-spacing="0.3">60.000</text>
<rect x="1666" y="538" width="2" height="1" fill="#000"/>
<rect x="1666" y="564" width="2" height="1" fill="#000"/>
<rect x="1666" y="597" width="2" height="1" fill="#000"/>
<text x="1670" y="550" font-size="12" fill="#000" text-anchor="start" font-weight="normal" >0.6581</text>
<text x="1670" y="569" font-size="12" fill="#000" text-anchor="start" font-weight="normal" >0.00</text>
<text x="1670" y="595" font-size="12" fill="#000" text-anchor="start" font-weight="normal" >-0.8175</text>
<rect x="1666" y="602" width="2" height="1" fill="#000"/>
<rect x="1666" y="640" width="2" height="1" fill="#000"/>
<rect x="1666" y="690" width="2" height="1" fill="#000"/>
<rect x="1666" y="727" width="2" height="1" fill="#000"/>
<text x="1670" y="614" font-size="12" fill="#000" text-anchor="start" font-weight="normal" >100</text>
<text x="1670" y="645" font-size="12" fill="#000" text-anchor="start" font-weight="normal" >70</text>
<text x="1670" y="695" font-size="12" fill="#000" text-anchor="start" font-weight="normal" >30</text>
<text x="1670" y="726" font-size="12" fill="#000" text-anchor="start" font-weight="normal" >0</text>
<rect x="2" y="730" width="1" height="3" fill="#000"/>
<text x="2" y="745" font-size="12" fill="#000" text-anchor="start" font-weight="normal" letter-spacing="0.2">12 Apr 2019</text>
<rect x="98" y="730" width="1" height="3" fill="#000"/>
<text x="98" y="745" font-size="12" fill="#000" text-anchor="start" font-weight="normal" letter-spacing="0.2">16 Apr 08:00</text>
<rect x="194" y="730" width="1" height="3" fill="#000"/>
<text x="194" y="745" font-size="12" fill="#000" text-anchor="start" font-weight="normal" letter-spacing="0.2">18 Apr 08:00</text>
<rect x="290" y="730" width="1" height="3" fill="#000"/>
<text x="290" y="745" font-size="12" fill="#000" text-anchor="start" font-weight="normal" letter-spacing="0.2">23 Apr 04:00</text>
<rect x="386" y="730" width="1" height="3" fill="#000"/>
<text x="386" y="745" font-size="12" fill="#000" text-anchor="start" font-weight="normal" letter-spacing="0.2">25 Apr 04:00</text>
<rect x="482" y="730" width="1" height="3" fill="#000"/>
<text x="482" y="745" font-size="12" fill="#000" text-anchor="start" font-weight="normal" letter-spacing="0.2">29 Apr 00:00</text>
<rect x="578" y="730" width="1" height="3" fill="#000"/>
<text x="578" y="745" font-size="12" fill="#000" text-anchor="start" font-weight="normal" letter-spacing="0.2">1 May 00:00</text>
<rect x="674" y="730" width="1" height="3" fill="#000"/>
<text x="674" y="745" font-size="12" fill="#000" text-anchor="start" font-weight="normal" letter-spacing="0.2">3 May 00:00</text>
<rect x="770" y="730" width="1" height="3" fill="#000"/>
<text x="770" y="745" font-size="12" fill="#000" text-anchor="start" font-weight="normal" letter-spacing="0.2">6 May 20:00</text>
<rect x="866" y="730" width="1" height="3" fill="#000"/>
<text x="866" y="745" font-size="12" fill="#000" text-anchor="start" font-weight="normal" letter-spacing="0.2">8 May 20:00</text>
<rect x="962" y="730" width="1" height="3" fill="#000"/>
<text x="962" y="745" font-size="12" fill="#000" text-anchor="start" font-weight="normal" letter-spacing="0.2">10 May 20:00</text>
<rect x="1058" y="730" width="1" height="3" fill="#000"/>
<text x="1058" y="745" font-size="12" fill="#000" text-anchor="start" font-weight="normal" letter-spacing="0.2">14 May 16:00</text>
<rect x="1154" y="730" width="1" height="3" fill="#000"/>
<text x="1154" y="745" font-size="12" fill="#000" text-anchor="start" font-weight="normal" letter-spacing="0.2">16 May 16:00</text>
<rect x="1250" y="730" width="1" height="3" fill="#000"/>
<text x="1250" y="745" font-size="12" fill="#000" text-anchor="start" font-weight="normal" letter-spacing="0.2">20 May 12:00</text>
<text x="6" y="552" font-size="12" fill="#000" text-anchor="start" font-weight="normal" letter-spacing="0.3">MACD(12,26,9) 0.1919 0.3023</text>
<text x="6" y="616" font-size="12" fill="#000" text-anchor="start" font-weight="normal" letter-spacing="0.25">RSI(14) 49.4185</text>
<polygon points="5,50 14,50 9.5,45" fill="#000"/>
<text x="20" y="52" font-size="12" fill="#000" text-anchor="start" font-weight="normal" letter-spacing="-0.35">USOil-,H4</text>
<text x="79" y="52" font-size="12" fill="#000" text-anchor="start" font-weight="normal" letter-spacing="0.42">63.090 63.100 62.860 62.940</text></svg>

<div class="tf" style="left:201px">M1</div>
<div class="tf" style="left:235px">M5</div>
<div class="tf" style="left:270px">M15</div>
<div class="tf" style="left:304px">M30</div>
<div class="tf" style="left:338px">H1</div>
<div id="h4btn"></div>
<div class="tf" style="left:371px">H4</div>
<div class="tf" style="left:406px">D1</div>
<div class="tf" style="left:441px">W1</div>
<div class="tf" style="left:473px">MN</div>



<div id="oct">
 <div id="octbg"></div>
 <div id="sellp" class="pblk"><span class="sm">62</span><span class="big">94</span><span class="sup">0</span></div>
 <div id="buyp" class="pblk"><span class="sm">62</span><span class="big">99</span><span class="sup">0</span></div>
 <div id="selltab" class="tab"><span>SELL</span></div>
 <div id="buytab" class="tab"><span>BUY</span></div>
 <div class="dv1" style="left:9px"></div><div class="dv2" style="left:9px"></div>
 <div class="dv1" style="left:224px"></div><div class="dv2" style="left:224px"></div>
 <div id="vol"><div class="spin" style="left:0"><div class="tri down"></div></div><span>1.00</span><div class="spin" style="right:0"><div class="tri up"></div></div></div>
</div>

</body></html>
